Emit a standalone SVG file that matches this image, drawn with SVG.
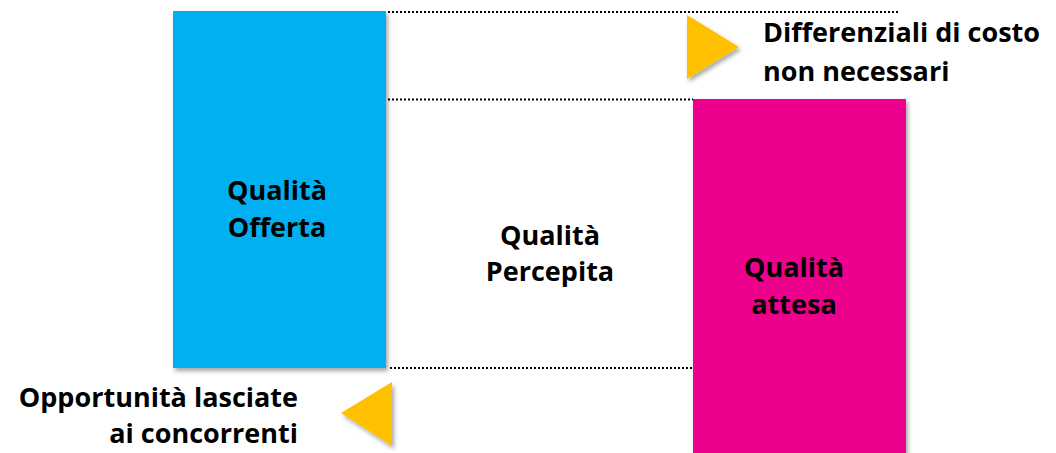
<svg xmlns="http://www.w3.org/2000/svg" width="1056" height="453" viewBox="0 0 1056 453">
  <defs>
    <filter id="sh" x="-20%" y="-20%" width="140%" height="140%">
      <feDropShadow dx="2" dy="3" stdDeviation="2" flood-color="#000" flood-opacity="0.35"/>
    </filter>
    <style>
      text { font-family: "Open Sans", "Noto Sans", sans-serif; font-weight: bold; font-size: 27px; fill: #000; }
      .dot { stroke: #000; stroke-width: 2; stroke-dasharray: 2 2; fill: none; }
      .tri { fill: #FFC000; filter: url(#sh); }
    </style>
  </defs>
  <rect width="1056" height="453" fill="#fff"/>

  <g id="connectors">
    <line class="dot" x1="388" y1="12" x2="898" y2="12"/>
    <line class="dot" x1="388" y1="99.5" x2="693" y2="99.5"/>
    <line class="dot" x1="390" y1="368" x2="692" y2="368"/>
  </g>

  <g id="qualita-offerta">
    <rect x="173" y="11" width="213" height="357" fill="#00B0F0" filter="url(#sh)"/>
    <text x="277" y="200" text-anchor="middle">Qualità</text>
    <text x="277" y="237" text-anchor="middle">Offerta</text>
  </g>

  <g id="qualita-attesa">
    <rect x="693" y="99" width="213" height="360" fill="#EC008C" filter="url(#sh)"/>
    <text x="794" y="277" text-anchor="middle">Qualità</text>
    <text x="794" y="314" text-anchor="middle">attesa</text>
  </g>

  <g id="qualita-percepita">
    <text x="550" y="245" text-anchor="middle">Qualità</text>
    <text x="550" y="281" text-anchor="middle">Percepita</text>
  </g>

  <g id="differenziali">
    <polygon class="tri" points="687,15 739,47 687,79"/>
    <text x="763" y="42">Differenziali di costo</text>
    <text x="763" y="81">non necessari</text>
  </g>

  <g id="opportunita">
    <polygon class="tri" points="392,382 341,413 392,446"/>
    <text x="298" y="407" text-anchor="end">Opportunità lasciate</text>
    <text x="298" y="443" text-anchor="end">ai concorrenti</text>
  </g>
</svg>
